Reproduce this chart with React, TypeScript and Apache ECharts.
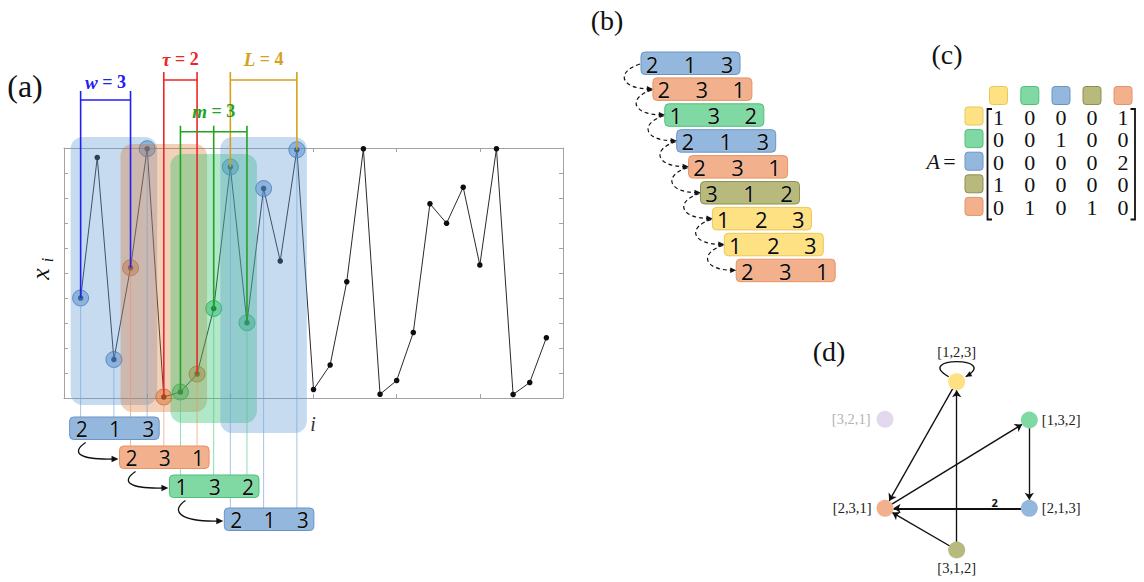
import React, { useEffect, useRef } from "react";
import * as echarts from "echarts";

// ---------- data ----------
// time series x_i sampled at i = 1..29
const sampleIndex = [1, 2, 3, 4, 5, 6, 7, 8, 9, 10, 11, 12, 13, 14, 15, 16, 17, 18, 19, 20, 21, 22, 23, 24, 25, 26, 27, 28, 29];
const sampleValues = [4.0, 9.62, 1.54, 5.21, 9.97, 0.04, 0.24, 0.96, 3.58, 9.24, 3.01, 8.38, 5.48, 9.93, 0.34, 1.32, 4.65, 9.97, 0.15, 0.7, 2.62, 7.77, 6.99, 8.43, 5.32, 9.97, 0.14, 0.62, 2.41];

// axis ranges of the series plot
const xAxisMax = 30;
const xTickStep = 5;
const yAxisMax = 10;
const yTickStep = 1;

// embedding parameters
const embeddingDim = 3; // m
const delay = 2; // tau
const windowShift = 3; // w
const windowStarts = [1, 4, 7, 10];
const windowPatterns = [
  [2, 1, 3],
  [2, 3, 1],
  [1, 3, 2],
  [2, 1, 3],
];

// full symbolic sequence
const patternSequence = [
  [2, 1, 3],
  [2, 3, 1],
  [1, 3, 2],
  [2, 1, 3],
  [2, 3, 1],
  [3, 1, 2],
  [1, 2, 3],
  [1, 2, 3],
  [2, 3, 1],
];

// transition matrix
const stateOrder = ["123", "132", "213", "312", "231"];
const adjacency = [
  [1, 0, 0, 0, 1],
  [0, 0, 1, 0, 0],
  [0, 0, 0, 0, 2],
  [1, 0, 0, 0, 0],
  [0, 1, 0, 1, 0],
];

// transition network
const graphNodes = ["[1,2,3]", "[1,3,2]", "[2,1,3]", "[2,3,1]", "[3,1,2]", "[3,2,1]"];
const graphEdges: [string, string, number][] = [
  ["[1,2,3]", "[2,3,1]", 1],
  ["[2,3,1]", "[1,3,2]", 1],
  ["[1,3,2]", "[2,1,3]", 1],
  ["[2,1,3]", "[2,3,1]", 2],
  ["[3,1,2]", "[1,2,3]", 1],
  ["[3,1,2]", "[2,3,1]", 1],
];
const selfLoops = ["[1,2,3]"];

// ---------- layout & style ----------
const SERIF = "'Liberation Serif', 'DejaVu Serif', serif";
const DIGITS = "'Open Sans', 'Noto Sans', 'Liberation Sans', sans-serif";

const nodeLayout: Record<string, [number, number]> = {
  "[1,2,3]": [956.7, 381.7],
  "[1,3,2]": [1029.3, 420],
  "[2,1,3]": [1029.3, 508.3],
  "[2,3,1]": [885, 508.3],
  "[3,1,2]": [956.7, 550],
  "[3,2,1]": [885, 419.3],
};
const nodeLabelPos: Record<string, string> = {
  "[1,2,3]": "top",
  "[1,3,2]": "right",
  "[2,1,3]": "right",
  "[2,3,1]": "left",
  "[3,1,2]": "bottom",
  "[3,2,1]": "left",
};
const nodeLabelDist: Record<string, number> = {
  "[1,2,3]": 14,
  "[1,3,2]": 4,
  "[2,1,3]": 4,
  "[2,3,1]": 5,
  "[3,1,2]": 2,
  "[3,2,1]": 6,
};

const palette: Record<string, { fill: string; stroke: string }> = {
  "123": { fill: "#fde182", stroke: "#e9c75a" },
  "132": { fill: "#80d9a3", stroke: "#4fbf7b" },
  "213": { fill: "#94b7de", stroke: "#6b94c4" },
  "312": { fill: "#b7ba7c", stroke: "#8e914f" },
  "231": { fill: "#f3b08c", stroke: "#e49466" },
  "321": { fill: "#e3d9ee", stroke: "#e3d9ee" },
};

const windowTint: Record<string, { band: string; dot: string; dotEdge: string; drop: string }> = {
  "213": { band: "rgba(98,155,212,0.36)", dot: "rgba(70,130,200,0.62)", dotEdge: "rgba(45,95,165,0.9)", drop: "rgba(120,165,215,0.65)" },
  "231": { band: "rgba(216,113,43,0.33)", dot: "rgba(222,112,45,0.62)", dotEdge: "rgba(190,90,30,0.9)", drop: "rgba(235,150,100,0.65)" },
  "132": { band: "rgba(47,195,110,0.38)", dot: "rgba(35,185,95,0.62)", dotEdge: "rgba(25,150,75,0.9)", drop: "rgba(80,200,130,0.65)" },
};

const windowTop = [137, 144, 154, 137];
const windowBottom = [405, 412, 423, 433];
const patternBoxTop = [417, 446, 475, 508];
const patternBoxShift = [0, 0, 0, 5];

const key = (p: number[]) => p.join("");

const frameAxis = (position: string, max: number, step: number) => ({
  gridIndex: 0,
  type: "value",
  position,
  min: 0,
  max,
  interval: step,
  axisLine: { show: true, onZero: false, lineStyle: { color: "#a3a3a3", width: 1 } },
  axisTick: { show: true, inside: true, length: 4, lineStyle: { color: "#a3a3a3" } },
  axisLabel: { show: false },
  splitLine: { show: false },
});

const canvasAxis = (max: number, inverse: boolean) => ({
  gridIndex: 1,
  type: "value",
  min: 0,
  max,
  inverse,
  show: false,
});

function arrowHead(tx: number, ty: number, dx: number, dy: number, len = 7, half = 3.2, z = 30) {
  const n = Math.hypot(dx, dy);
  const ux = dx / n;
  const uy = dy / n;
  const bx = tx - ux * len;
  const by = ty - uy * len;
  return {
    type: "polygon",
    z,
    shape: { points: [[tx, ty], [bx - uy * half, by + ux * half], [bx + uy * half, by - ux * half]] },
    style: { fill: "#111" },
  };
}

function text(t: string, x: number, y: number, s: any, z = 40, extra: any = {}) {
  return {
    type: "text",
    x,
    y,
    z,
    ...extra,
    style: { text: t, align: "center", verticalAlign: "middle", fill: "#111", ...s },
  };
}

function digitRow(p: number[], xs: number[], yc: number, size: number) {
  return p.map((d, k) =>
    text(String(d), xs[k], yc, {
      fontFamily: DIGITS,
      fontSize: size,
      fill: "#0a0a0a",
      stroke: "rgba(255,255,255,0.55)",
      lineWidth: 0.6,
    }, 42)
  );
}

function buildGraphics(toPx: (i: number) => number[], nodePx: (n: string) => number[]) {
  const g: any[] = [];

  // panel letters
  g.push(text("(a)", 25, 86, { fontFamily: SERIF, fontSize: 32 }));
  g.push(text("(b)", 607, 20, { fontFamily: SERIF, fontSize: 28 }));
  g.push(text("(c)", 947, 54, { fontFamily: SERIF, fontSize: 28 }));
  g.push(text("(d)", 829, 351, { fontFamily: SERIF, fontSize: 28 }));

  // axis titles of the series plot
  g.push(text("x", 40, 274, { fontFamily: SERIF, fontSize: 26, fontStyle: "italic" }, 40, { rotation: Math.PI / 2 }));
  g.push(text("i", 47, 260, { fontFamily: SERIF, fontSize: 16, fontStyle: "italic" }, 40, { rotation: Math.PI / 2 }));
  g.push(text("i", 313, 424, { fontFamily: SERIF, fontSize: 20, fontStyle: "italic", fill: "#333" }));

  // embedding windows, drop lines, pattern boxes
  windowStarts.forEach((s, w) => {
    const idx = [0, 1, 2].map((k) => s + k * delay);
    const pts = idx.map(toPx);
    const pk = key(windowPatterns[w]);
    const tint = windowTint[pk];
    g.push({
      type: "rect",
      z: 10,
      shape: { x: pts[0][0] - 10, y: windowTop[w], width: pts[2][0] - pts[0][0] + 20, height: windowBottom[w] - windowTop[w], r: 12 },
      style: { fill: tint.band },
    });
    const top = patternBoxTop[w];
    pts.forEach((p) => {
      g.push({ type: "line", z: 11, shape: { x1: p[0], y1: p[1] + 7, x2: p[0], y2: top }, style: { stroke: tint.drop, lineWidth: 1 } });
    });
    const sh = patternBoxShift[w];
    const left = pts[0][0] - 11 + sh;
    const right = pts[2][0] + 12 + sh;
    g.push({
      type: "rect",
      z: 30,
      shape: { x: left, y: top, width: right - left, height: 22.5, r: 4 },
      style: { fill: palette[pk].fill, stroke: palette[pk].stroke, lineWidth: 1 },
    });
    g.push(...digitRow(windowPatterns[w], pts.map((p) => p[0] + 1 + sh), top + 11.5, 21));
  });

  // hooked arrows between successive pattern boxes
  for (let w = 0; w < windowStarts.length - 1; w++) {
    const a = toPx(windowStarts[w]);
    const b = toPx(windowStarts[w + 1]);
    const L = a[0] - 11 + patternBoxShift[w];
    const B = patternBoxTop[w] + 22.5;
    const L2 = b[0] - 11 + patternBoxShift[w + 1];
    const C2 = patternBoxTop[w + 1] + 12;
    g.push({
      type: "bezierCurve",
      z: 31,
      shape: { x1: L + 16, y1: B + 3, cpx1: L + 1, cpy1: B + 13, cpx2: L + 9, cpy2: C2 + 2, x2: L2 - 5, y2: C2 + 1 },
      style: { stroke: "#111", lineWidth: 1.3, fill: "none" },
    });
    g.push(arrowHead(L2 - 1, C2 + 1, 1, 0, 7, 3.2, 31));
  }

  // parameter brackets
  const bracket = (ids: number[], barY: number, topY: number, color: string, sym: string, val: number, labelY: number) => {
    const pts = ids.map(toPx);
    pts.forEach((p) => {
      g.push({ type: "line", z: 25, shape: { x1: p[0], y1: topY, x2: p[0], y2: p[1] }, style: { stroke: color, lineWidth: 1.6 } });
    });
    g.push({
      type: "line",
      z: 25,
      shape: { x1: pts[0][0], y1: barY, x2: pts[pts.length - 1][0], y2: barY },
      style: { stroke: color, lineWidth: 1.6 },
    });
    const cx = (pts[0][0] + pts[pts.length - 1][0]) / 2;
    g.push({
      type: "text",
      x: cx,
      y: labelY,
      z: 40,
      style: {
        text: `{s|${sym}}{e| = ${val}}`,
        align: "center",
        verticalAlign: "middle",
        rich: {
          s: { fontFamily: SERIF, fontSize: 19, fontWeight: "bold", fontStyle: "italic", fill: color },
          e: { fontFamily: SERIF, fontSize: 18, fontWeight: "bold", fill: color },
        },
      },
    });
  };
  bracket([windowStarts[0], windowStarts[0] + windowShift], 100, 91, "#2020f0", "w", windowShift, 82);
  bracket([6, 6 + delay], 80, 72, "#ee2626", "τ", delay, 59);
  bracket([10, 14], 80, 72, "#d4a21c", "L", 14 - 10, 59);
  bracket([7, 7 + delay, 7 + 2 * delay], 131.7, 125.7, "#22a322", "m", embeddingDim, 111);

  // (b) symbolic sequence
  patternSequence.forEach((p, k) => {
    const L = 641 + 11.9 * k;
    const T = 52 + 25.9 * k;
    const pk = key(p);
    g.push({
      type: "rect",
      z: 30,
      shape: { x: L, y: T, width: 99, height: 22.5, r: 4 },
      style: { fill: palette[pk].fill, stroke: palette[pk].stroke, lineWidth: 1 },
    });
    g.push(...digitRow(p, [L + 11, L + 49, L + 86], T + 11.5, 22));
    if (k < patternSequence.length - 1) {
      const L2 = 641 + 11.9 * (k + 1);
      const T2 = 52 + 25.9 * (k + 1);
      g.push({
        type: "bezierCurve",
        z: 31,
        shape: { x1: L - 1, y1: T + 12, cpx1: L - 26, cpy1: T + 20, cpx2: L - 20, cpy2: T2 + 11, x2: L2 - 4, y2: T2 + 11 },
        style: { stroke: "#111", lineWidth: 1.2, fill: "none", lineDash: [4, 3] },
      });
      g.push(arrowHead(L2, T2 + 11, 1, 0, 6, 2.8, 31));
    }
  });

  // (c) transition matrix
  const colX = [998.5, 1029.8, 1061, 1092, 1123];
  const rowY = [116, 138.6, 161.2, 183.8, 206.4];
  stateOrder.forEach((s, c) => {
    g.push({
      type: "rect",
      z: 30,
      shape: { x: colX[c] - 9, y: 86.5, width: 18, height: 18, r: 3 },
      style: { fill: palette[s].fill, stroke: palette[s].stroke, lineWidth: 1 },
    });
    g.push({
      type: "rect",
      z: 30,
      shape: { x: 965, y: rowY[c] - 9, width: 18, height: 18, r: 3 },
      style: { fill: palette[s].fill, stroke: palette[s].stroke, lineWidth: 1 },
    });
  });
  adjacency.forEach((row, r) =>
    row.forEach((v, c) => g.push(text(String(v), colX[c], rowY[r] + 1, { fontFamily: SERIF, fontSize: 22 })))
  );
  g.push({
    type: "polyline",
    z: 30,
    shape: { points: [[992, 109], [987.5, 109], [987.5, 219.5], [992, 219.5]] },
    style: { stroke: "#111", lineWidth: 1.8, fill: "none" },
  });
  g.push({
    type: "polyline",
    z: 30,
    shape: { points: [[1130.5, 109], [1135, 109], [1135, 219.5], [1130.5, 219.5]] },
    style: { stroke: "#111", lineWidth: 1.8, fill: "none" },
  });
  g.push({
    type: "text",
    x: 941,
    y: 161.5,
    z: 40,
    style: {
      text: "{a|A} {e|=}",
      align: "center",
      verticalAlign: "middle",
      rich: {
        a: { fontFamily: SERIF, fontSize: 22, fontStyle: "italic", fill: "#111" },
        e: { fontFamily: SERIF, fontSize: 22, fill: "#111" },
      },
    },
  });

  // (d) self loops and edge weights
  selfLoops.forEach((name) => {
    const [nx, ny] = nodePx(name);
    g.push({
      type: "bezierCurve",
      z: 31,
      shape: { x1: nx - 8, y1: ny - 5, cpx1: nx - 44, cpy1: ny - 25, cpx2: nx + 44, cpy2: ny - 25, x2: nx + 9, y2: ny - 5 },
      style: { stroke: "#111", lineWidth: 1.3, fill: "none" },
    });
    g.push(arrowHead(nx + 9, ny - 5, -35, 20, 6, 2.8, 31));
  });
  graphEdges
    .filter((e) => e[2] > 1)
    .forEach(([s, t, w]) => {
      const a = nodePx(s);
      const b = nodePx(t);
      g.push(
        text(String(w), a[0] + (b[0] - a[0]) * 0.24, a[1] + (b[1] - a[1]) * 0.24 - 6, {
          fontFamily: DIGITS,
          fontSize: 11,
          fontWeight: "bold",
        })
      );
    });

  return g;
}

export default function App() {
  const ref = useRef<HTMLDivElement>(null);

  useEffect(() => {
    const el = ref.current;
    if (!el) return;
    const chart = echarts.init(el, null, { renderer: "svg" });

    const highlightSeries = windowStarts.map((s, w) => {
      const tint = windowTint[key(windowPatterns[w])];
      return {
        type: "scatter",
        xAxisIndex: 0,
        yAxisIndex: 0,
        symbolSize: 16,
        z: 3,
        silent: true,
        itemStyle: { color: tint.dot, borderColor: tint.dotEdge, borderWidth: 1 },
        data: [0, 1, 2].map((k) => [sampleIndex[s - 1 + k * delay], sampleValues[s - 1 + k * delay]]),
      };
    });

    chart.setOption({
      animation: false,
      backgroundColor: "#ffffff",
      grid: [
        { left: 64, top: 148, width: 499, height: 250 },
        { left: 0, top: 0, width: 1144, height: 582, show: false },
      ],
      xAxis: [frameAxis("bottom", xAxisMax, xTickStep), frameAxis("top", xAxisMax, xTickStep), canvasAxis(1144, false)],
      yAxis: [frameAxis("left", yAxisMax, yTickStep), frameAxis("right", yAxisMax, yTickStep), canvasAxis(582, true)],
      series: [
        {
          type: "line",
          xAxisIndex: 0,
          yAxisIndex: 0,
          z: 2,
          silent: true,
          data: sampleIndex.map((i, k) => [i, sampleValues[k]]),
          symbol: "circle",
          symbolSize: 5.5,
          showAllSymbol: true,
          lineStyle: { color: "#2a2a2a", width: 1 },
          itemStyle: { color: "#0d0d0d" },
        },
        ...highlightSeries,
        {
          type: "graph",
          coordinateSystem: "cartesian2d",
          xAxisIndex: 2,
          yAxisIndex: 2,
          z: 5,
          silent: true,
          symbol: "circle",
          symbolSize: 17,
          edgeSymbol: ["none", "arrow"],
          edgeSymbolSize: [0, 7],
          lineStyle: { color: "#111", width: 1.3, opacity: 1, curveness: 0 },
          emphasis: { disabled: true },
          data: graphNodes.map((name) => ({
            name,
            value: nodeLayout[name],
            itemStyle: { color: palette[name.replace(/[^0-9]/g, "")].fill },
            label: {
              show: true,
              position: nodeLabelPos[name],
              distance: nodeLabelDist[name],
              formatter: "{b}",
              color: name === "[3,2,1]" ? "#b3b3b3" : "#222",
              fontFamily: SERIF,
              fontSize: 14.5,
            },
          })),
          links: graphEdges.map(([s, t, w]) => ({
            source: s,
            target: t,
            value: w,
            lineStyle: { width: 0.7 + 0.65 * w },
          })),
        },
      ],
    });

    const toPx = (i: number) =>
      chart.convertToPixel({ xAxisIndex: 0, yAxisIndex: 0 }, [sampleIndex[i - 1], sampleValues[i - 1]]) as number[];
    const nodePx = (n: string) => chart.convertToPixel({ xAxisIndex: 2, yAxisIndex: 2 }, nodeLayout[n]) as number[];

    chart.setOption({ graphic: buildGraphics(toPx, nodePx) });

    return () => chart.dispose();
  }, []);

  return (
    <div
      ref={ref}
      style={{ position: "fixed", left: 0, top: 0, width: 1144, height: 582, background: "#ffffff" }}
    />
  );
}
